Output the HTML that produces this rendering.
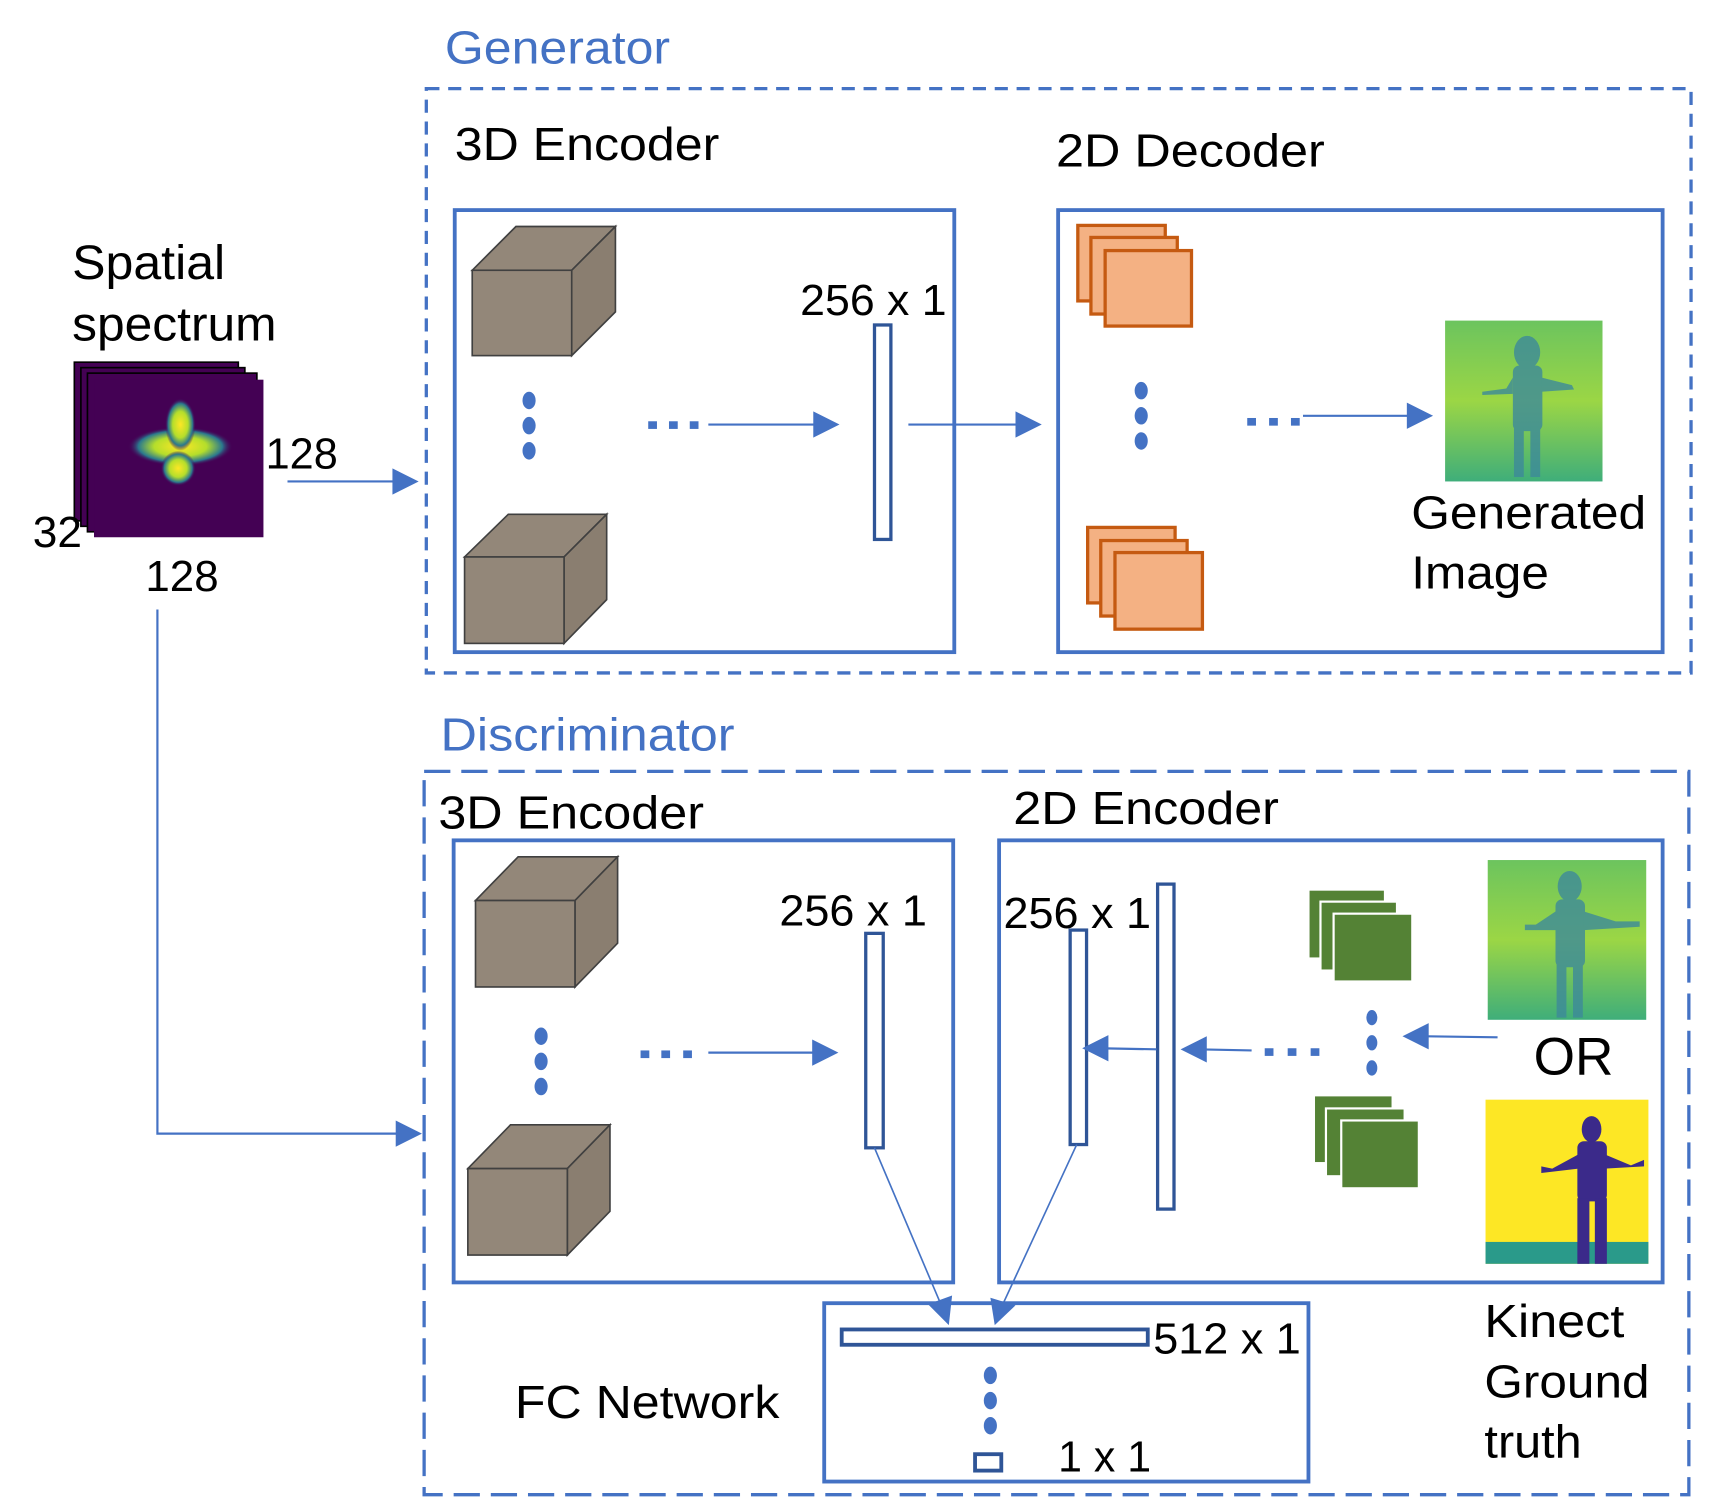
<!DOCTYPE html>
<html><head><meta charset="utf-8"><style>
html,body{margin:0;padding:0;background:#fff}
svg{display:block}
text{font-family:"Liberation Sans",Arial,sans-serif;fill:#000}
</style></head><body>
<svg width="1714" height="1510" viewBox="0 0 1568 1380" preserveAspectRatio="none" xmlns="http://www.w3.org/2000/svg">
<defs>
<linearGradient id="gg" x1="0" y1="0" x2="0" y2="1"><stop offset="0" stop-color="#6cc45e"/><stop offset="0.5" stop-color="#9bd645"/><stop offset="1" stop-color="#3fae7a"/></linearGradient>
<radialGradient id="blob" cx="0.5" cy="0.5" r="0.5"><stop offset="0" stop-color="#fde725"/><stop offset="0.5" stop-color="#b5de2b"/><stop offset="0.8" stop-color="#2a788e"/><stop offset="1" stop-color="#440154" stop-opacity="0"/></radialGradient>
</defs>

<!-- Generator -->
<text x="407" y="58" font-size="42" textLength="206" lengthAdjust="spacingAndGlyphs" style="fill:#4472c4">Generator</text>
<rect x="390" y="81" width="1157" height="534" fill="none" stroke="#4472c4" stroke-width="3" stroke-dasharray="12 8"/>
<text x="416" y="146" font-size="42" textLength="242" lengthAdjust="spacingAndGlyphs">3D Encoder</text>
<text x="966" y="152" font-size="42" textLength="246" lengthAdjust="spacingAndGlyphs">2D Decoder</text>
<rect x="416" y="192" width="457" height="404" fill="none" stroke="#4472c4" stroke-width="3.5"/>
<rect x="968" y="192" width="553" height="404" fill="none" stroke="#4472c4" stroke-width="3.5"/>

<g stroke="#404040" stroke-width="1.5" fill="#938779">
<polygon points="432,247 472,207 563,207 523,247"/>
<polygon points="523,247 563,207 563,285 523,325" fill="#8a7e70"/>
<rect x="432" y="247" width="91" height="78"/>
<polygon points="425,509 465,470 555,470 516,509"/>
<polygon points="516,509 555,470 555,548 516,588" fill="#8a7e70"/>
<rect x="425" y="509" width="91" height="79"/>
</g>
<g fill="#4472c4">
<ellipse cx="484" cy="366" rx="6" ry="8"/><ellipse cx="484" cy="389" rx="6" ry="8"/><ellipse cx="484" cy="412" rx="6" ry="8"/>
<rect x="593" y="385" width="8" height="7"/><rect x="612" y="385" width="8" height="7"/><rect x="631" y="385" width="8" height="7"/>
</g>
<line x1="648" y1="388" x2="748" y2="388" stroke="#4472c4" stroke-width="2"/>
<polygon points="744,376 768,388 744,400" fill="#4472c4"/>
<rect x="800" y="297" width="15" height="196" fill="#fff" stroke="#2f5597" stroke-width="3"/>
<text x="732" y="288" font-size="40" textLength="134" lengthAdjust="spacingAndGlyphs">256 x 1</text>
<line x1="831" y1="388" x2="932" y2="388" stroke="#4472c4" stroke-width="2"/>
<polygon points="929,376 953,388 929,400" fill="#4472c4"/>

<g fill="#f4b183" stroke="#c55a11" stroke-width="3">
<rect x="986" y="206" width="80" height="69"/><rect x="998" y="217" width="79" height="70"/><rect x="1011" y="229" width="79" height="69"/>
<rect x="995" y="482" width="80" height="69"/><rect x="1007" y="494" width="79" height="69"/><rect x="1020" y="505" width="80" height="70"/>
</g>
<g fill="#4472c4">
<ellipse cx="1044" cy="357" rx="6" ry="8"/><ellipse cx="1044" cy="380" rx="6" ry="8"/><ellipse cx="1044" cy="403" rx="6" ry="8"/>
<rect x="1141" y="382" width="8" height="7"/><rect x="1161" y="382" width="8" height="7"/><rect x="1181" y="382" width="8" height="7"/>
</g>
<line x1="1192" y1="380" x2="1292" y2="380" stroke="#4472c4" stroke-width="2"/>
<polygon points="1287,368 1311,380 1287,392" fill="#4472c4"/>
<rect x="1322" y="293" width="144" height="147" fill="url(#gg)"/>
<g fill="#3d8a9a" opacity="0.8">
<ellipse cx="1397" cy="322" rx="12" ry="15"/>
<rect x="1384" y="334" width="27" height="60" rx="6"/>
<polygon points="1384,345 1378,355 1356,358 1356,361 1384,360"/>
<polygon points="1410,345 1438,352 1440,356 1410,358"/>
<rect x="1385" y="390" width="9" height="46"/><rect x="1400" y="390" width="9" height="46"/>
</g>
<text x="1291" y="483" font-size="42" textLength="215" lengthAdjust="spacingAndGlyphs">Generated</text>
<text x="1291" y="538" font-size="42" textLength="126" lengthAdjust="spacingAndGlyphs">Image</text>

<!-- spectrum -->
<text x="66" y="255" font-size="44" textLength="140" lengthAdjust="spacingAndGlyphs">Spatial</text>
<text x="66" y="311" font-size="44" textLength="187" lengthAdjust="spacingAndGlyphs">spectrum</text>
<g stroke="#000" stroke-width="1.5" fill="#440154">
<rect x="68" y="331" width="150" height="145"/>
<rect x="74" y="336" width="150" height="145"/>
<rect x="80" y="341" width="155" height="145"/>
<rect x="86" y="347" width="155" height="144" stroke="none"/>
</g>
<ellipse cx="165" cy="408" rx="48" ry="18" fill="url(#blob)"/>
<ellipse cx="165" cy="388" rx="14" ry="24" fill="url(#blob)"/>
<ellipse cx="163" cy="428" rx="16" ry="16" fill="url(#blob)"/>
<text x="243" y="428" font-size="40" textLength="66" lengthAdjust="spacingAndGlyphs">128</text>
<text x="30" y="500" font-size="40" textLength="45" lengthAdjust="spacingAndGlyphs">32</text>
<text x="133" y="540" font-size="40" textLength="67" lengthAdjust="spacingAndGlyphs">128</text>
<line x1="263" y1="440" x2="363" y2="440" stroke="#4472c4" stroke-width="2"/>
<polygon points="359,428 383,440 359,452" fill="#4472c4"/>
<polyline points="144,557 144,1036 366,1036" fill="none" stroke="#4472c4" stroke-width="2"/>
<polygon points="362,1024 386,1036 362,1048" fill="#4472c4"/>

<!-- Discriminator -->
<text x="403" y="686" font-size="42" textLength="269" lengthAdjust="spacingAndGlyphs" style="fill:#4472c4">Discriminator</text>
<rect x="388" y="705" width="1157" height="661" fill="none" stroke="#4472c4" stroke-width="3" stroke-dasharray="24 10"/>
<text x="401" y="757" font-size="42" textLength="243" lengthAdjust="spacingAndGlyphs">3D Encoder</text>
<text x="927" y="753" font-size="42" textLength="243" lengthAdjust="spacingAndGlyphs">2D Encoder</text>
<rect x="415" y="768" width="457" height="404" fill="none" stroke="#4472c4" stroke-width="3.5"/>
<rect x="914" y="768" width="607" height="404" fill="none" stroke="#4472c4" stroke-width="3.5"/>
<g stroke="#404040" stroke-width="1.5" fill="#938779">
<polygon points="435,823 474,783 565,783 526,823"/>
<polygon points="526,823 565,783 565,862 526,902" fill="#8a7e70"/>
<rect x="435" y="823" width="91" height="79"/>
<polygon points="428,1068 467,1028 558,1028 519,1068"/>
<polygon points="519,1068 558,1028 558,1107 519,1147" fill="#8a7e70"/>
<rect x="428" y="1068" width="91" height="79"/>
</g>
<g fill="#4472c4">
<ellipse cx="495" cy="947" rx="6" ry="8"/><ellipse cx="495" cy="970" rx="6" ry="8"/><ellipse cx="495" cy="993" rx="6" ry="8"/>
<rect x="586" y="960" width="8" height="7"/><rect x="605" y="960" width="8" height="7"/><rect x="625" y="960" width="8" height="7"/>
</g>
<line x1="648" y1="962" x2="748" y2="962" stroke="#4472c4" stroke-width="2"/>
<polygon points="743,950 767,962 743,974" fill="#4472c4"/>
<rect x="792" y="853" width="16" height="196" fill="#fff" stroke="#2f5597" stroke-width="3"/>
<text x="713" y="846" font-size="40" textLength="135" lengthAdjust="spacingAndGlyphs">256 x 1</text>

<rect x="1059" y="808" width="15" height="297" fill="#fff" stroke="#2f5597" stroke-width="3"/>
<rect x="979" y="850" width="15" height="196" fill="#fff" stroke="#2f5597" stroke-width="3"/>
<text x="918" y="848" font-size="40" textLength="135" lengthAdjust="spacingAndGlyphs">256 x 1</text>
<line x1="1058" y1="959" x2="1005" y2="958" stroke="#4472c4" stroke-width="2"/>
<polygon points="1014,946 990,958 1014,970" fill="#4472c4"/>
<line x1="1145" y1="960" x2="1095" y2="959" stroke="#4472c4" stroke-width="2"/>
<polygon points="1104,947 1080,959 1104,971" fill="#4472c4"/>
<g fill="#4472c4">
<rect x="1157" y="958" width="8" height="7"/><rect x="1178" y="958" width="8" height="7"/><rect x="1199" y="958" width="8" height="7"/>
<ellipse cx="1255" cy="930" rx="5" ry="7"/><ellipse cx="1255" cy="953" rx="5" ry="7"/><ellipse cx="1255" cy="976" rx="5" ry="7"/>
</g>
<line x1="1370" y1="948" x2="1298" y2="947" stroke="#4472c4" stroke-width="2"/>
<polygon points="1307,935 1283,947 1307,959" fill="#4472c4"/>
<g fill="#548235" stroke="#fff" stroke-width="2">
<rect x="1197" y="813" width="70" height="63"/><rect x="1208" y="824" width="70" height="63"/><rect x="1220" y="835" width="72" height="62"/>
<rect x="1202" y="1001" width="72" height="62"/><rect x="1213" y="1013" width="72" height="62"/><rect x="1227" y="1024" width="71" height="62"/>
</g>
<rect x="1361" y="786" width="145" height="146" fill="url(#gg)"/>
<g fill="#3d8a9a" opacity="0.8">
<ellipse cx="1436" cy="810" rx="11" ry="14"/>
<rect x="1423" y="822" width="27" height="62" rx="6"/>
<polygon points="1423,833 1405,845 1395,845 1395,850 1423,850"/>
<polygon points="1449,833 1478,842 1500,842 1500,847 1449,850"/>
<rect x="1424" y="880" width="9" height="50"/><rect x="1439" y="880" width="9" height="50"/>
</g>
<text x="1403" y="982" font-size="48" textLength="73" lengthAdjust="spacingAndGlyphs">OR</text>
<rect x="1359" y="1005" width="149" height="150" fill="#fde725"/>
<rect x="1359" y="1135" width="149" height="20" fill="#2a9a8a"/>
<g fill="#3b2a8a">
<ellipse cx="1456" cy="1032" rx="9" ry="12"/>
<rect x="1443" y="1043" width="27" height="55" rx="6"/>
<polygon points="1444,1055 1420,1068 1410,1066 1410,1072 1444,1068"/>
<polygon points="1468,1055 1492,1065 1504,1060 1504,1066 1468,1068"/>
<rect x="1443" y="1095" width="11" height="60"/><rect x="1459" y="1095" width="11" height="60"/>
</g>
<text x="1358" y="1222" font-size="42" textLength="128" lengthAdjust="spacingAndGlyphs">Kinect</text>
<text x="1358" y="1277" font-size="42" textLength="151" lengthAdjust="spacingAndGlyphs">Ground</text>
<text x="1358" y="1332" font-size="42" textLength="89" lengthAdjust="spacingAndGlyphs">truth</text>

<!-- FC -->
<rect x="754" y="1191" width="443" height="163" fill="none" stroke="#4472c4" stroke-width="3.5"/>
<text x="471" y="1296" font-size="42" textLength="242" lengthAdjust="spacingAndGlyphs">FC Network</text>
<rect x="770" y="1215" width="280" height="14" fill="#fff" stroke="#2f5597" stroke-width="3.5"/>
<text x="1055" y="1237" font-size="40" textLength="135" lengthAdjust="spacingAndGlyphs">512 x 1</text>
<g fill="#4472c4"><ellipse cx="906" cy="1257" rx="6" ry="8"/><ellipse cx="906" cy="1280" rx="6" ry="8"/><ellipse cx="906" cy="1303" rx="6" ry="8"/></g>
<rect x="892" y="1329" width="24" height="15" fill="#fff" stroke="#2f5597" stroke-width="3.5"/>
<text x="968" y="1345" font-size="40" textLength="85" lengthAdjust="spacingAndGlyphs">1 x 1</text>
<line x1="800" y1="1049" x2="862" y2="1195" stroke="#4472c4" stroke-width="1.5"/>
<polygon points="849,1192 868,1211 871,1184" fill="#4472c4"/>
<line x1="985" y1="1046" x2="916" y2="1195" stroke="#4472c4" stroke-width="1.5"/>
<polygon points="906,1186 910,1211 929,1193" fill="#4472c4"/>
</svg>
</body></html>
